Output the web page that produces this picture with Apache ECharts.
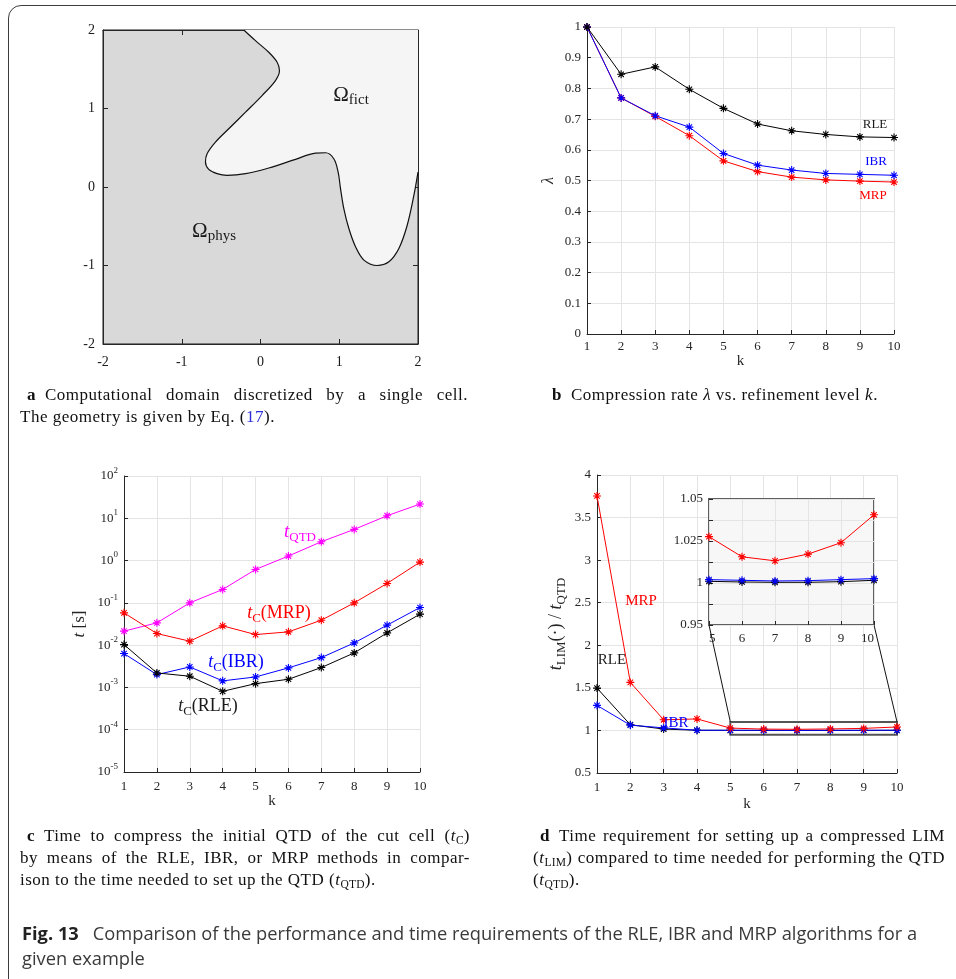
<!DOCTYPE html>
<html>
<head>
<meta charset="utf-8">
<title>Fig. 13</title>
<script src="https://cdn.jsdelivr.net/npm/echarts@6.0.0/dist/echarts.min.js"></script>
<style>
  html, body { margin: 0; padding: 0; background: #fff; overflow: hidden; }
  #page { position: relative; width: 956px; height: 979px; overflow: hidden; }
  #chart { position: absolute; left: 0; top: 0; width: 956px; height: 979px; }
  #frame { position: absolute; left: 8px; top: 5px; width: 990px; height: 990px; border: 1.5px solid #3d3d3d; border-radius: 13px; }
  .cap { position: absolute; font-family: 'Liberation Serif', serif; font-size: 17px; letter-spacing: 0.5px; line-height: 22px; color: #111; }
  .cap div { white-space: nowrap; }
  .cap .j { text-align: justify; text-align-last: justify; white-space: normal; }
  .cap sub { font-size: 68%; line-height: 0; vertical-align: -0.3em; letter-spacing: 0.2px; }
  .cap .ref { color: #2d2dd6; }
  .fig { position: absolute; left: 22px; top: 920px; font-family: 'Open Sans', sans-serif; font-size: 18.3px; line-height: 25px; color: #3a3a3a; white-space: nowrap; }
  .fig b { color: #222; margin-right: 14px; }
</style>
</head>
<body>
<div id="page">
  <div id="chart"></div>
  <div id="frame"></div>

  <div class="cap" style="left:20px;top:384px;width:448px;">
    <div class="j" style="text-indent:7px"><b>a</b>&ensp;Computational domain discretized by a single cell.</div>
    <div>The geometry is given by Eq. (<span class="ref">17</span>).</div>
  </div>
  <div class="cap" style="left:544px;top:384px;width:400px;">
    <div style="text-indent:8px"><b>b</b>&ensp;Compression rate <i>λ</i> vs. refinement level <i>k</i>.</div>
  </div>
  <div class="cap" style="left:20px;top:825px;width:450px;">
    <div class="j" style="text-indent:7px"><b>c</b>&ensp;Time to compress the initial QTD of the cut cell (<i>t</i><sub>C</sub>)</div>
    <div class="j">by means of the RLE, IBR, or MRP methods in compar-</div>
    <div>ison to the time needed to set up the QTD (<i>t</i><sub>QTD</sub>).</div>
  </div>
  <div class="cap" style="left:533px;top:825px;width:412px;">
    <div class="j" style="text-indent:7px"><b>d</b>&ensp;Time requirement for setting up a compressed LIM</div>
    <div class="j">(<i>t</i><sub>LIM</sub>) compared to time needed for performing the QTD</div>
    <div>(<i>t</i><sub>QTD</sub>).</div>
  </div>
  <div class="fig"><b>Fig. 13</b>Comparison of the performance and time requirements of the RLE, IBR and MRP algorithms for a<br>given example</div>
</div>

<script>
var FONT = "'Liberation Serif', 'DejaVu Serif', serif";
var INK = '#262626';
// matlab style '*' marker
var STAR = 'path://M5,0L5,10M0,5L10,5M1.6,1.6L8.4,8.4M1.6,8.4L8.4,1.6';

var kSteps = [1, 2, 3, 4, 5, 6, 7, 8, 9, 10];

// (a) boundary between physical and fictitious domain
var boundaryX = [-0.212, -0.064, 0.105, 0.211, 0.241, 0.19, 0.02, -0.19, -0.403, -0.572, -0.678, -0.699,
  -0.657, -0.551, -0.424, -0.19, 0.105, 0.445, 0.699, 0.826, 0.931, 0.986, 1.016, 1.058, 1.122, 1.207,
  1.313, 1.482, 1.63, 1.757, 1.863, 1.948, 2.0];
var boundaryY = [2.0, 1.864, 1.716, 1.589, 1.483, 1.356, 1.165, 0.953, 0.742, 0.572, 0.424, 0.318,
  0.225, 0.170, 0.149, 0.170, 0.242, 0.352, 0.432, 0.436, 0.36, 0.19, -0.02, -0.275, -0.529, -0.762,
  -0.931, -1.0, -0.953, -0.783, -0.487, -0.105, 0.19];

// (b) compression rate lambda
var lambdaRLE = [1.0, 0.846, 0.870, 0.797, 0.735, 0.684, 0.662, 0.650, 0.642, 0.640];
var lambdaIBR = [1.0, 0.769, 0.711, 0.674, 0.588, 0.550, 0.534, 0.523, 0.520, 0.517];
var lambdaMRP = [1.0, 0.769, 0.709, 0.646, 0.564, 0.529, 0.511, 0.502, 0.498, 0.495];

// (c) times in s
var tQTD = [0.0214, 0.0337, 0.100, 0.207, 0.617, 1.28, 2.79, 5.46, 11.5, 21.7];
var tcMRP = [0.058, 0.0188, 0.0124, 0.0286, 0.0178, 0.0206, 0.0389, 0.100, 0.288, 0.92];
var tcIBR = [0.00632, 0.00201, 0.00305, 0.00143, 0.00177, 0.0029, 0.00508, 0.0113, 0.0297, 0.0777];
var tcRLE = [0.0103, 0.0022, 0.00184, 0.00081, 0.00123, 0.00156, 0.00295, 0.00656, 0.0195, 0.054];

// (d) t_LIM / t_QTD
var ratioMRP = [3.754, 1.564, 1.125, 1.135, 1.0276, 1.0156, 1.0132, 1.0172, 1.024, 1.0406];
var ratioRLE = [1.497, 1.067, 1.016, 1.002, 1.001, 1.0006, 1.0004, 1.0004, 1.0008, 1.0016];
var ratioIBR = [1.294, 1.062, 1.03, 1.002, 1.002, 1.0016, 1.0012, 1.0014, 1.002, 1.0026];

// inset of (d)
var insetYTicks = [0.975, 1, 1.025, 1.05];
var insetYText = ['0.95', '1', '1.025', '1.05'];
var zoomK = [5, 10];
var zoomRatio = [0.95, 1.1];

var chart = echarts.init(document.getElementById('chart'));

function pairs(vals, from) {
  var out = [];
  for (var i = from || 0; i < vals.length; i++) out.push([kSteps[i], vals[i]]);
  return out;
}

function curve(name, idx, vals, color, from, z) {
  return {
    type: 'line', name: name,
    xAxisIndex: idx, yAxisIndex: idx,
    data: pairs(vals, from),
    symbol: STAR, symbolSize: 8,
    lineStyle: {color: color, width: 1},
    itemStyle: {color: color, borderColor: color, borderWidth: 1.1},
    emphasis: {disabled: true},
    silent: true,
    z: z || 2
  };
}

function axis(grid, o) {
  var a = {
    gridIndex: grid, type: 'value',
    axisLine: {show: true, onZero: false, lineStyle: {color: INK, width: 1}},
    axisTick: {show: true, inside: true, length: 4, lineStyle: {color: INK}},
    axisLabel: {color: INK, fontFamily: FONT, fontSize: 13, margin: 6},
    splitLine: {show: true, lineStyle: {color: '#e4e4e4', width: 1}},
    nameLocation: 'middle',
    nameTextStyle: {color: INK, fontFamily: FONT, fontSize: 15}
  };
  for (var key in o) {
    if (o[key] && typeof o[key] === 'object' && !Array.isArray(o[key]) && a[key]) {
      a[key] = Object.assign({}, a[key], o[key]);
    } else {
      a[key] = o[key];
    }
  }
  return a;
}

function richSub(color, size) {
  var s = Math.round(size * 0.7);
  return {
    i: {color: color, fill: color, fontFamily: FONT, fontSize: size, fontStyle: 'italic', lineHeight: size + 6},
    s: {color: color, fill: color, fontFamily: FONT, fontSize: s, lineHeight: s + 2, verticalAlign: 'bottom'},
    n: {color: color, fill: color, fontFamily: FONT, fontSize: size, lineHeight: size + 6},
    o: {color: color, fill: color, fontFamily: FONT, fontSize: size, lineHeight: size + 4}
  };
}

function note(x, y, text, color, size) {
  return {
    type: 'text', x: x, y: y, z: 20, silent: true,
    style: {
      text: text, fill: color, fontFamily: FONT, fontSize: size,
      align: 'center', verticalAlign: 'middle', rich: richSub(color, size)
    }
  };
}

var notes = [
  note(351, 95, '{o|Ω}{s|fict}', '#1a1a1a', 21),
  note(214, 231, '{o|Ω}{s|phys}', '#1a1a1a', 21),
  note(875, 125, 'RLE', '#1a1a1a', 13),
  note(876, 162, 'IBR', '#0000ff', 13),
  note(873, 196, 'MRP', '#ff0000', 13),
  note(300, 532, '{i|t}{s|QTD}', '#ff00ff', 19),
  note(279, 613, '{i|t}{s|C}{n|(MRP)}', '#ff0000', 18),
  note(236, 662, '{i|t}{s|C}{n|(IBR)}', '#0000ff', 18),
  note(208, 706, '{i|t}{s|C}{n|(RLE)}', '#1a1a1a', 18),
  note(641, 601, 'MRP', '#ff0000', 15),
  note(612, 660, 'RLE', '#1a1a1a', 15),
  note(676, 723, 'IBR', '#0000ff', 15)
];

var option = {
  animation: false,
  backgroundColor: 'transparent',
  grid: [
    {left: 103, top: 30, width: 315, height: 314, show: true, backgroundColor: '#d9d9d9', borderColor: '#1a1a1a', borderWidth: 1},
    {left: 587, top: 27, width: 307, height: 307},
    {left: 124, top: 476, width: 296, height: 296},
    {left: 597, top: 475, width: 300, height: 298},
    {left: 709, top: 499, width: 165, height: 126, show: true, backgroundColor: '#f7f7f7', borderColor: '#5f5f5f', borderWidth: 2, z: 5}
  ],
  xAxis: [
    axis(0, {min: -2, max: 2, interval: 1, splitLine: {show: false}, axisTick: {length: 5},
      axisLabel: {fontSize: 14, margin: 11, color: '#1a1a1a'}}),
    axis(0, {position: 'top', min: -2, max: 2, interval: 1, splitLine: {show: false},
      axisTick: {length: 5}, axisLabel: {show: false}}),
    axis(1, {min: 1, max: 10, interval: 1, name: 'k', nameGap: 20}),
    axis(2, {min: 1, max: 10, interval: 1, name: 'k', nameGap: 22, axisLabel: {margin: 8}}),
    axis(3, {min: 1, max: 10, interval: 1, name: 'k', nameGap: 24, axisLabel: {margin: 8}}),
    axis(4, {min: 5, max: 10, interval: 1, z: 6, axisLine: {show: false},
      axisLabel: {margin: 7, alignMinLabel: 'left', alignMaxLabel: 'right'}})
  ],
  yAxis: [
    axis(0, {min: -2, max: 2, interval: 1, splitLine: {show: false}, axisTick: {length: 5},
      axisLabel: {fontSize: 14, margin: 8, color: '#1a1a1a'}}),
    axis(0, {position: 'right', min: -2, max: 2, interval: 1, splitLine: {show: false},
      axisTick: {length: 5}, axisLabel: {show: false}}),
    axis(1, {min: 0, max: 1, interval: 0.1, name: 'λ', nameGap: 30, nameRotate: 90,
      nameTextStyle: {fontStyle: 'italic', fontSize: 16}}),
    axis(2, {type: 'log', logBase: 10, min: 1e-5, max: 100, splitNumber: 7,
      axisLabel: {
        formatter: function (v) {
          return '{b|10}{e|' + Math.round(Math.log(v) / Math.LN10) + '}';
        },
        rich: {
          b: {color: INK, fontFamily: FONT, fontSize: 13, lineHeight: 20},
          e: {color: INK, fontFamily: FONT, fontSize: 9, lineHeight: 11, verticalAlign: 'top'}
        }
      },
      name: '{i|t}{n| [s]}', nameGap: 33, nameRotate: 90,
      nameTextStyle: {rich: richSub(INK, 17)}}),
    axis(3, {min: 0.5, max: 4, interval: 0.5, name: '{i|t}{s|LIM}{n|(·) / }{i|t}{s|QTD}', nameGap: 29, nameRotate: 90,
      nameTextStyle: {rich: richSub(INK, 18)}}),
    axis(4, {min: insetYTicks[0], max: insetYTicks[3], interval: 0.0125, z: 6, axisLine: {show: false},
      axisLabel: {
        formatter: function (v) {
          for (var i = 0; i < insetYTicks.length; i++) {
            if (Math.abs(v - insetYTicks[i]) < 1e-6) return insetYText[i];
          }
          return '';
        }
      }})
  ],
  series: [
    {
      type: 'custom', xAxisIndex: 0, yAxisIndex: 0, data: [[0, 0]], clip: true, z: 1, silent: true,
      renderItem: function (params, api) {
        var pts = [];
        for (var i = 0; i < boundaryX.length; i++) pts.push(api.coord([boundaryX[i], boundaryY[i]]));
        pts.push(api.coord([2, 2]));
        return {type: 'polygon', shape: {points: pts}, style: {fill: '#f5f5f5'}};
      }
    },
    {
      type: 'line', xAxisIndex: 0, yAxisIndex: 0, smooth: 0.35, symbol: 'none', silent: true, z: 3,
      data: boundaryX.map(function (x, i) { return [x, boundaryY[i]]; }),
      lineStyle: {color: '#111', width: 1.2}
    },

    curve('MRP', 2, lambdaMRP, '#ff0000'),
    curve('IBR', 2, lambdaIBR, '#0000ff'),
    curve('RLE', 2, lambdaRLE, '#000000'),

    curve('tQTD', 3, tQTD, '#ff00ff'),
    curve('MRP', 3, tcMRP, '#ff0000'),
    curve('IBR', 3, tcIBR, '#0000ff'),
    curve('RLE', 3, tcRLE, '#000000'),

    Object.assign(curve('RLE', 4, ratioRLE, '#000000'), {
      markArea: {
        silent: true,
        itemStyle: {color: 'rgba(0,0,0,0)', borderColor: '#555', borderWidth: 2},
        data: [[{coord: [zoomK[0], zoomRatio[0]]}, {coord: [zoomK[1], zoomRatio[1]]}]]
      }
    }),
    curve('IBR', 4, ratioIBR, '#0000ff'),
    curve('MRP', 4, ratioMRP, '#ff0000'),

    curve('RLE', 5, ratioRLE, '#000000', 4, 8),
    curve('IBR', 5, ratioIBR, '#0000ff', 4, 8),
    curve('MRP', 5, ratioMRP, '#ff0000', 4, 8)
  ],
  graphic: notes
};

chart.setOption(option);

// lines joining the zoom box of (d) to its inset
var a1 = chart.convertToPixel({gridIndex: 3}, [zoomK[0], zoomRatio[1]]);
var a2 = chart.convertToPixel({gridIndex: 3}, [zoomK[1], zoomRatio[1]]);
var b1 = chart.convertToPixel({gridIndex: 4}, [zoomK[0], insetYTicks[0]]);
var b2 = chart.convertToPixel({gridIndex: 4}, [zoomK[1], insetYTicks[0]]);
var links = [[a1, b1], [a2, b2]].map(function (p) {
  return {
    type: 'line', z: 4, silent: true,
    shape: {x1: p[0][0], y1: p[0][1], x2: p[1][0], y2: p[1][1]},
    style: {stroke: '#111', lineWidth: 1}
  };
});
chart.setOption({graphic: notes.concat(links)});
</script>
</body>
</html>
